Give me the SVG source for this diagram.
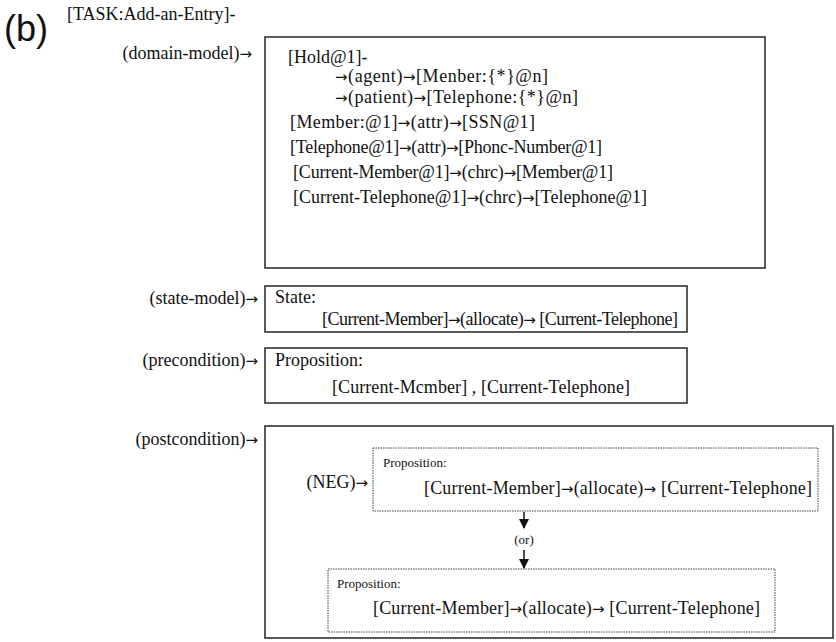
<svg xmlns="http://www.w3.org/2000/svg" width="836" height="642" viewBox="0 0 836 642">
  <defs>
    <style>
      .t { font-family: "Liberation Serif", "Times New Roman", serif; font-size: 18px; fill: #111; }
      .s { font-family: "Liberation Serif", "Times New Roman", serif; font-size: 13px; fill: #111; }
      .ar { font-family: "DejaVu Sans", sans-serif; font-size: 15px; }
      .box { fill: none; stroke: #333; stroke-width: 1.6; }
      .dot { fill: none; stroke: #444; stroke-width: 1; stroke-dasharray: 1.5 1; }
      .conn { fill: none; stroke: #111; stroke-width: 1.5; }
    </style>
    <marker id="head" viewBox="0 0 10 10" refX="9" refY="5" markerWidth="7" markerHeight="7" orient="auto">
      <path d="M0,0 L10,5 L0,10 z" fill="#111"/>
    </marker>
  </defs>
  <rect width="836" height="642" fill="#fff"/>

  <!-- heading -->
  <g id="title">
    <text x="4" y="41" font-family="Liberation Sans, Arial, sans-serif" font-size="36" fill="#111">(b)</text>
    <text class="t" x="67" y="20" font-size="16">[TASK:Add-an-Entry]-</text>
  </g>

  <!-- domain model -->
  <g id="domain-model">
    <text class="t" x="252" y="59" text-anchor="end">(domain-model)<tspan class="ar">→</tspan></text>
    <rect class="box" x="265" y="37" width="500" height="231"/>
    <text class="t" x="288" y="63">[Hold@1]-</text>
    <text class="t" x="335" y="82" textLength="213"><tspan class="ar">→</tspan>(agent)<tspan class="ar">→</tspan>[Menber:{*}@n]</text>
    <text class="t" x="335" y="103" textLength="243"><tspan class="ar">→</tspan>(patient)<tspan class="ar">→</tspan>[Telephone:{*}@n]</text>
    <text class="t" x="290" y="128" textLength="245">[Member:@1]<tspan class="ar">→</tspan>(attr)<tspan class="ar">→</tspan>[SSN@1]</text>
    <text class="t" x="290" y="153" textLength="312">[Telephone@1]<tspan class="ar">→</tspan>(attr)<tspan class="ar">→</tspan>[Phonc-Number@1]</text>
    <text class="t" x="293" y="178" textLength="320">[Current-Member@1]<tspan class="ar">→</tspan>(chrc)<tspan class="ar">→</tspan>[Member@1]</text>
    <text class="t" x="293" y="203" textLength="354">[Current-Telephone@1]<tspan class="ar">→</tspan>(chrc)<tspan class="ar">→</tspan>[Telephone@1]</text>
  </g>

  <!-- state model -->
  <g id="state-model">
    <text class="t" x="258" y="304" text-anchor="end">(state-model)<tspan class="ar">→</tspan></text>
    <rect class="box" x="265" y="286" width="422" height="46"/>
    <text class="t" x="275" y="303">State:</text>
    <text class="t" x="322" y="325" textLength="356">[Current-Member]<tspan class="ar">→</tspan>(allocate)<tspan class="ar">→</tspan> [Current-Telephone]</text>
  </g>

  <!-- precondition -->
  <g id="precondition">
    <text class="t" x="258" y="366" text-anchor="end">(precondition)<tspan class="ar">→</tspan></text>
    <rect class="box" x="265" y="348" width="422" height="55"/>
    <text class="t" x="275" y="366">Proposition:</text>
    <text class="t" x="332" y="393" textLength="298">[Current-Mcmber] , [Current-Telephone]</text>
  </g>

  <!-- postcondition -->
  <g id="postcondition">
    <text class="t" x="258" y="445" text-anchor="end">(postcondition)<tspan class="ar">→</tspan></text>
    <rect class="box" x="265" y="426" width="568" height="212"/>
  </g>

  <g id="neg-proposition">
    <text class="t" x="368" y="488" text-anchor="end">(NEG)<tspan class="ar">→</tspan></text>
    <rect class="dot" x="373" y="448" width="445" height="63"/>
    <text class="s" x="383" y="467">Proposition:</text>
    <text class="t" x="424" y="494" textLength="388">[Current-Member]<tspan class="ar">→</tspan>(allocate)<tspan class="ar">→</tspan> [Current-Telephone]</text>
  </g>

  <g id="or-relation">
    <text class="s" x="524" y="544" text-anchor="middle" font-size="12">(or)</text>
  </g>

  <g id="proposition">
    <rect class="dot" x="328" y="569" width="447" height="63"/>
    <text class="s" x="337" y="588">Proposition:</text>
    <text class="t" x="373" y="614" textLength="387">[Current-Member]<tspan class="ar">→</tspan>(allocate)<tspan class="ar">→</tspan> [Current-Telephone]</text>
  </g>

  <!-- connectors -->
  <g id="connectors">
    <path class="conn" d="M524,512 L524,528" marker-end="url(#head)"/>
    <path class="conn" d="M524,550 L524,568" marker-end="url(#head)"/>
  </g>
</svg>
